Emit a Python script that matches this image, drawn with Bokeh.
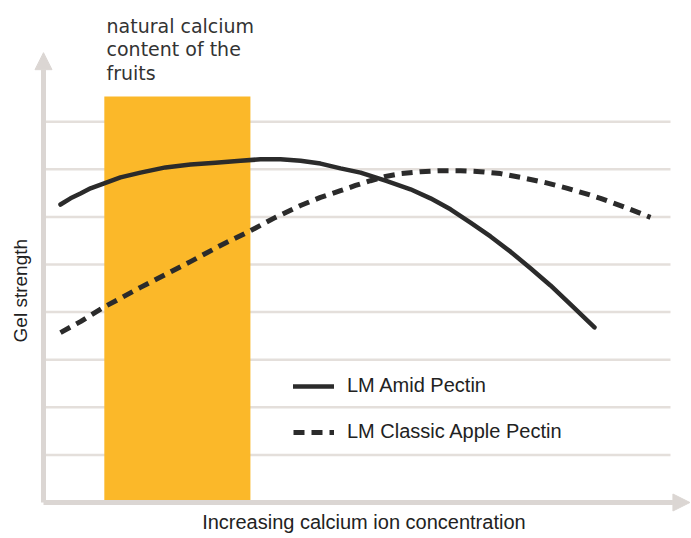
import numpy as np
from bokeh.plotting import figure
from bokeh.models import Range1d, Arrow, NormalHead, Label, Legend, LegendItem
from bokeh.embed import file_html
from bokeh.resources import INLINE

# x: calcium ion concentration (relative units, 0..100 = end of grid)
# y: gel strength (relative units, one unit per grid line)
amid_x = [2.71, 4.31, 5.90, 7.50, 9.57, 12.28, 15.47, 19.46, 23.44, 27.43, 31.42, 34.61, 37.80, 40.99,
          44.18, 47.37, 50.56, 54.55, 58.53, 61.72, 64.91, 68.10, 71.29, 74.48, 77.67, 80.86, 84.05, 87.88]
amid_y = [6.26, 6.39, 6.49, 6.60, 6.70, 6.83, 6.93, 7.04, 7.10, 7.14, 7.18, 7.21, 7.21, 7.18,
          7.12, 7.02, 6.93, 6.76, 6.58, 6.39, 6.16, 5.88, 5.59, 5.27, 4.92, 4.56, 4.16, 3.68]

classic_x = [2.71, 5.90, 9.57, 12.28, 15.47, 19.46, 23.44, 28.23, 33.01, 37.00, 40.99, 44.18, 47.37, 49.76,
             52.15, 54.55, 56.94, 60.13, 63.32, 66.51, 69.70, 72.89, 76.08, 80.06, 83.57, 86.44, 88.84,
             92.82, 96.81]
classic_y = [3.57, 3.80, 4.10, 4.29, 4.52, 4.79, 5.06, 5.40, 5.71, 5.99, 6.24, 6.41, 6.55, 6.66,
             6.76, 6.85, 6.91, 6.95, 6.97, 6.97, 6.95, 6.91, 6.83, 6.72, 6.60, 6.49, 6.39,
             6.20, 5.99]

grid_levels = [1, 2, 3, 4, 5, 6, 7, 8]
grid_end = 100
natural_left, natural_right, natural_top = 9.7, 33.0, 8.53
y_axis_top = 9.45
x_axis_end = 103.1

series_names = ["LM Amid Pectin", "LM Classic Apple Pectin"]
natural_label = ["natural calcium", "content of the", "fruits"]
x_label = "Increasing calcium ion concentration"
y_label = "Gel strength"

W, H = 691, 538
p = figure(width=W, height=H, output_backend="svg", toolbar_location=None,
           x_range=Range1d(-6.858, 103.35), y_range=Range1d(-0.756, 10.546),
           x_axis_location=None, y_axis_location=None, min_border=0,
           background_fill_color="white", border_fill_color="white")
p.outline_line_color = None
p.xgrid.visible = False
p.ygrid.visible = False

GRID = "#e4dfdb"
AXIS = "#dbd6d3"
INK = "#2b2b2b"
ORANGE = "#FBB829"

# horizontal gridlines
p.multi_line(xs=[[0, grid_end] for _ in grid_levels], ys=[[g, g] for g in grid_levels],
             line_color=GRID, line_width=2.5)

# natural calcium range
p.quad(left=[natural_left], right=[natural_right], bottom=[0], top=[natural_top],
       fill_color=ORANGE, line_color=None)

# axes with arrow heads
p.add_layout(Arrow(x_start=0, y_start=0, x_end=0, y_end=y_axis_top, line_color=AXIS, line_width=5,
                   end=NormalHead(size=17, fill_color=AXIS, line_color=AXIS, line_width=1)))
p.add_layout(Arrow(x_start=0, y_start=0, x_end=x_axis_end, y_end=0, line_color=AXIS, line_width=5,
                   end=NormalHead(size=17, fill_color=AXIS, line_color=AXIS, line_width=1)))

r1 = p.line(amid_x, amid_y, line_color=INK, line_width=4.5, line_cap="round", line_join="round")
r2 = p.line(classic_x, classic_y, line_color=INK, line_width=5, line_dash="11 7", line_join="round")

legend = Legend(items=[LegendItem(label=series_names[0], renderers=[r1]),
                       LegendItem(label=series_names[1], renderers=[r2])],
                location=(293, 95), padding=0, margin=0, spacing=23,
                glyph_width=41, glyph_height=20, label_height=20, label_standoff=13,
                label_text_font="Liberation Sans", label_text_font_size="20px",
                label_text_color="#222222", background_fill_alpha=0, border_line_color=None)
p.add_layout(legend)

for txt, yy in zip(natural_label, [10.02, 9.517, 9.013]):
    p.add_layout(Label(x=10.05, y=yy, text=txt, text_font="DejaVu Sans", text_font_size="19px",
                       text_color="#333333", text_baseline="alphabetic", text_align="left"))

p.add_layout(Label(x=51.1, y=-0.40, text=x_label, text_font="Liberation Sans", text_font_size="20px",
                   text_color="#222222", text_baseline="alphabetic", text_align="center"))
p.add_layout(Label(x=-3.67, y=4.45, text=y_label, angle=np.pi / 2, text_font="Liberation Sans",
                   text_font_size="19px", text_color="#222222", text_baseline="middle", text_align="center"))

open("out.html", "w").write(file_html(p, INLINE))
